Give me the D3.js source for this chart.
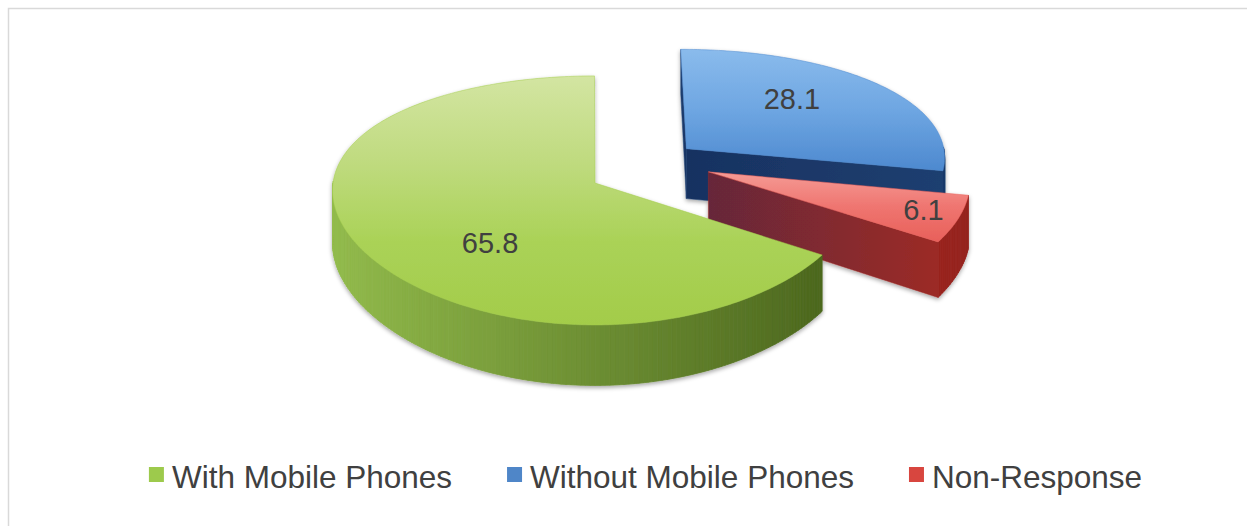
<!DOCTYPE html>
<html>
<head>
<meta charset="utf-8">
<script src="https://cdn.jsdelivr.net/npm/d3@7"></script>
<style>
  html, body { margin: 0; background: #fff; }
  svg { display: block; font-family: "Liberation Sans", Arial, sans-serif; }
</style>
</head>
<body>
<svg id="chart" width="1247" height="526"></svg>
<script>
// ---- data ----
const categories = ["With Mobile Phones", "Without Mobile Phones", "Non-Response"];
const values = [65.8, 28.1, 6.1];
const valueLabels = ["65.8", "28.1", "6.1"];

// ---- styling / layout ----
const legendColors = ["#9dca4c", "#4f86c8", "#d8463f"];
const sliceStyle = [
  { explode: 0,     dir: null, top: ["#d3e5a2", "#c0db80", "#aad257", "#a3cc4a"],
    wallLight: "#93bc4c", wallDark: "#46601a", cutA: "#56761f", cutB: "#4a661a",
    label: { f: 0.5, r: 0.45, z: 0.62 } },
  { explode: 0.46,  dir: null, top: ["#8abbec", "#6ea6e2", "#4d89cf"],
    wallLight: "#2a5893", wallDark: "#1b3a68", cutA: "#183261", cutB: "#1d3f70",
    label: { f: 0.42, r: 0.64, z: 0 } },
  { explode: 0.445, dir: 78,   top: ["#f59b95", "#ef7570", "#e8605a"],
    wallLight: "#d8443c", wallDark: "#94221e", cutA: "#66283a", cutB: "#9c2a26",
    label: { f: 0.46, r: 0.86, z: 0 } }
];

const W = 1247, H = 526;
const svg = d3.select("#chart");
const defs = svg.append("defs");

// chart frame
svg.append("rect")
  .attr("x", 8.5).attr("y", 8.5)
  .attr("width", W).attr("height", H)
  .attr("fill", "#fff")
  .attr("stroke", "#d9d9d9")
  .attr("stroke-width", 1.5);

// soft shadow under the pie
const shadow = defs.append("filter").attr("id", "pieShadow")
  .attr("x", "-10%").attr("y", "-10%").attr("width", "120%").attr("height", "130%");
shadow.append("feDropShadow")
  .attr("dx", 0).attr("dy", 2).attr("stdDeviation", 2.2)
  .attr("flood-color", "#000").attr("flood-opacity", 0.35);

// ---- 3D projection of the pie plane ----
const view = { cx: 595, cy: 183, R: 262, tilt: 0.466, persp: 0.14, perspX: 0.06, depth: 52 };
function project(X, Yb, z) {
  // X: right, Yb: away from viewer, z: 0 = top face, 1 = bottom face
  const p = 1 / (1 + view.persp * Yb);
  const px = 1 / (1 + view.perspX * Yb);
  return [view.cx + view.R * X * px,
          view.cy - view.R * view.tilt * Yb * p + view.depth * z * p];
}

const firstSliceAngle = 123 * Math.PI / 180;
const pie = d3.pie().sort(null).value(d => d)
  .startAngle(firstSliceAngle)
  .endAngle(firstSliceAngle + 2 * Math.PI);
const arcs = pie(values);

const slices = arcs.map((a, i) => {
  const st = sliceStyle[i];
  const dir = st.dir != null ? st.dir * Math.PI / 180 : (a.startAngle + a.endAngle) / 2;
  const ox = st.explode * Math.sin(dir), oy = st.explode * Math.cos(dir);
  const pt = (th, r, z) => project(ox + r * Math.sin(th), oy + r * Math.cos(th), z);
  return { i, a, st, ox, oy, pt };
});

// exploded slices further back are drawn first, the main body last
const order = slices.slice().sort((s, t) =>
  (t.st.explode > 0) - (s.st.explode > 0) || (t.oy - s.oy));

const line = d3.line();
const pieG = svg.append("g").attr("filter", "url(#pieShadow)");

order.forEach(s => {
  const { a, st, pt, i } = s;
  const g = pieG.append("g").attr("class", "slice slice-" + i);
  const a0 = a.startAngle, a1 = a.endAngle;
  const n = Math.max(8, Math.ceil((a1 - a0) / (Math.PI / 180)));
  const step = (a1 - a0) / n;

  // outer curved wall, only the part turned toward the viewer
  const wallColor = d3.interpolateRgb(st.wallLight, st.wallDark);
  for (let k = 0; k < n; k++) {
    const t0 = a0 + k * step, t1 = t0 + step, tm = (t0 + t1) / 2;
    if (Math.cos(tm) >= 0.02) continue;
    const c = wallColor((Math.sin(tm) + 1) / 2);
    g.append("path")
      .attr("d", line([pt(t0, 1, 0), pt(t1, 1, 0), pt(t1, 1, 1), pt(t0, 1, 1)]) + "Z")
      .attr("fill", c).attr("stroke", c).attr("stroke-width", 0.8);
  }

  // radial cut walls
  const cutWall = (th) => {
    const pts = [pt(th, 0, 0), pt(th, 1, 0), pt(th, 1, 1), pt(th, 0, 1)];
    const gid = "cut" + i + "_" + Math.round(th * 1000);
    const gr = defs.append("linearGradient").attr("id", gid)
      .attr("gradientUnits", "userSpaceOnUse")
      .attr("x1", pts[0][0]).attr("y1", 0).attr("x2", pts[1][0]).attr("y2", 0);
    gr.append("stop").attr("offset", 0).attr("stop-color", st.cutA);
    gr.append("stop").attr("offset", 1).attr("stop-color", st.cutB);
    g.append("path").attr("d", line(pts) + "Z")
      .attr("fill", `url(#${gid})`).attr("stroke", st.cutB).attr("stroke-width", 0.5);
  };
  if (Math.sin(a0) < -1e-6) cutWall(a0);
  if (Math.sin(a1) > 1e-6) cutWall(a1);

  // top face
  const topPts = [pt(a0, 0, 0)];
  for (let k = 0; k <= n; k++) topPts.push(pt(a0 + k * step, 1, 0));
  const ys = topPts.map(p => p[1]);
  const tg = defs.append("linearGradient").attr("id", "top" + i)
    .attr("gradientUnits", "userSpaceOnUse")
    .attr("x1", 0).attr("x2", 0).attr("y1", d3.min(ys)).attr("y2", d3.max(ys));
  st.top.forEach((c, k) => tg.append("stop")
    .attr("offset", k / (st.top.length - 1)).attr("stop-color", c));
  g.append("path").attr("d", line(topPts) + "Z")
    .attr("fill", `url(#top${i})`)
    .attr("stroke", st.top[st.top.length - 1]).attr("stroke-width", 0.5);
});

// value labels
slices.forEach(s => {
  const { a, st, pt, i } = s;
  const th = a.startAngle + (a.endAngle - a.startAngle) * st.label.f;
  const [x, y] = pt(th, st.label.r, st.label.z);
  svg.append("text")
    .attr("x", x).attr("y", y)
    .attr("text-anchor", "middle")
    .attr("dominant-baseline", "central")
    .attr("font-size", 29)
    .attr("fill", "#404040")
    .text(valueLabels[i]);
});

// legend
const legend = svg.append("g").attr("class", "legend");
const items = categories.map((c, i) => {
  const g = legend.append("g");
  g.append("rect").attr("width", 15).attr("height", 15).attr("y", 467)
    .attr("fill", legendColors[i]);
  const t = g.append("text").attr("x", 23).attr("y", 488)
    .attr("font-size", 31.5).attr("fill", "#404040").text(c);
  return { g, w: 23 + t.node().getComputedTextLength() };
});
const gap = 55;
const total = d3.sum(items, d => d.w) + gap * (items.length - 1);
let x0 = 645.5 - total / 2;
items.forEach(it => { it.g.attr("transform", `translate(${x0},0)`); x0 += it.w + gap; });
</script>
</body>
</html>
